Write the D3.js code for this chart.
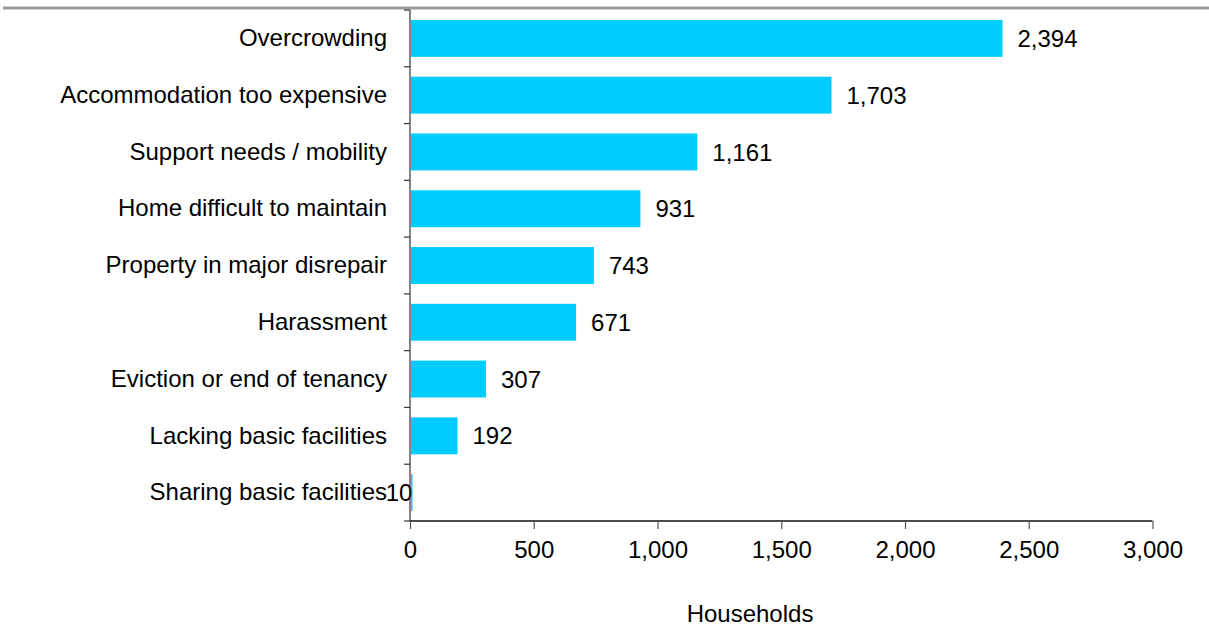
<!DOCTYPE html>
<html>
<head>
<meta charset="utf-8">
<script src="https://cdnjs.cloudflare.com/ajax/libs/d3/7.8.5/d3.min.js"></script>
<style>
  html, body { margin: 0; padding: 0; background: #fff; }
  svg { display: block; }
  text { font-family: "Liberation Sans", Arial, sans-serif; fill: #000; }
</style>
</head>
<body>
<svg id="chart" width="1209" height="627"></svg>
<script>
// Reasons for housing need, number of households
const categories = [
  "Overcrowding",
  "Accommodation too expensive",
  "Support needs / mobility",
  "Home difficult to maintain",
  "Property in major disrepair",
  "Harassment",
  "Eviction or end of tenancy",
  "Lacking basic facilities",
  "Sharing basic facilities"
];
const households = [2394, 1703, 1161, 931, 743, 671, 307, 192, 10];
const xTicks = [0, 500, 1000, 1500, 2000, 2500, 3000];
const xTitle = "Households";

const svg = d3.select("#chart");
const W = 1209, H = 627;
const fontSize = 24;

// top rule
svg.append("line")
  .attr("x1", 3).attr("x2", W)
  .attr("y1", 8).attr("y2", 8)
  .attr("stroke", "#9a9a9a").attr("stroke-width", 3);

const x = d3.scaleLinear().domain([0, 3000]).range([410, 1152.5]);
const y = d3.scaleBand().domain(categories).range([10, 521])
  .paddingInner(0.35).paddingOuter(0.175);

// bars
svg.append("g").selectAll("rect")
  .data(categories)
  .join("rect")
  .attr("x", x(0) + 1)
  .attr("y", d => y(d))
  .attr("width", (d, i) => Math.max(0, x(households[i]) - x(0) - 1))
  .attr("height", y.bandwidth())
  .attr("fill", "#00CCFF");

// value labels
svg.append("g").selectAll("text")
  .data(categories)
  .join("text")
  .attr("x", (d, i) => households[i] < 50 ? x(households[i]) : x(households[i]) + 15)
  .attr("y", d => y(d) + y.bandwidth() / 2)
  .attr("dy", "0.36em")
  .attr("text-anchor", (d, i) => households[i] < 50 ? "end" : "start")
  .style("font-size", fontSize + "px")
  .text((d, i) => d3.format(",")(households[i]));

// y axis: category labels
const yAxis = svg.append("g")
  .attr("transform", `translate(${x(0)},0)`)
  .call(d3.axisLeft(y).tickSize(0).tickPadding(23));
yAxis.select(".domain").remove();
yAxis.selectAll("text").style("font-size", fontSize + "px");

// y axis line and ticks at band boundaries
const step = y.step();
const boundaries = categories.map(c => y(c) - step * y.paddingInner() / 2);
boundaries.push(y.range()[1]);
svg.append("line")
  .attr("x1", x(0)).attr("x2", x(0))
  .attr("y1", y.range()[0]).attr("y2", y.range()[1])
  .attr("stroke", "#333").attr("stroke-width", 1.2);
svg.append("g").selectAll("line")
  .data(boundaries)
  .join("line")
  .attr("x1", x(0) - 6).attr("x2", x(0))
  .attr("y1", d => d).attr("y2", d => d)
  .attr("stroke", "#333").attr("stroke-width", 1.2);

// x axis
const xAxis = svg.append("g")
  .attr("transform", `translate(0,${y.range()[1]})`)
  .call(d3.axisBottom(x).tickValues(xTicks).tickSize(8).tickPadding(12)
    .tickFormat(d3.format(",")));
xAxis.select(".domain").attr("stroke", "#111").attr("stroke-width", 1.5)
  .attr("d", `M${x(0)},0H${x(3000)}`);
xAxis.selectAll(".tick line").attr("stroke", "#555").attr("stroke-width", 1.2);
xAxis.selectAll("text").style("font-size", fontSize + "px");

// x axis title
svg.append("text")
  .attr("x", 750).attr("y", 622)
  .attr("text-anchor", "middle")
  .style("font-size", fontSize + "px")
  .text(xTitle);
</script>
</body>
</html>
